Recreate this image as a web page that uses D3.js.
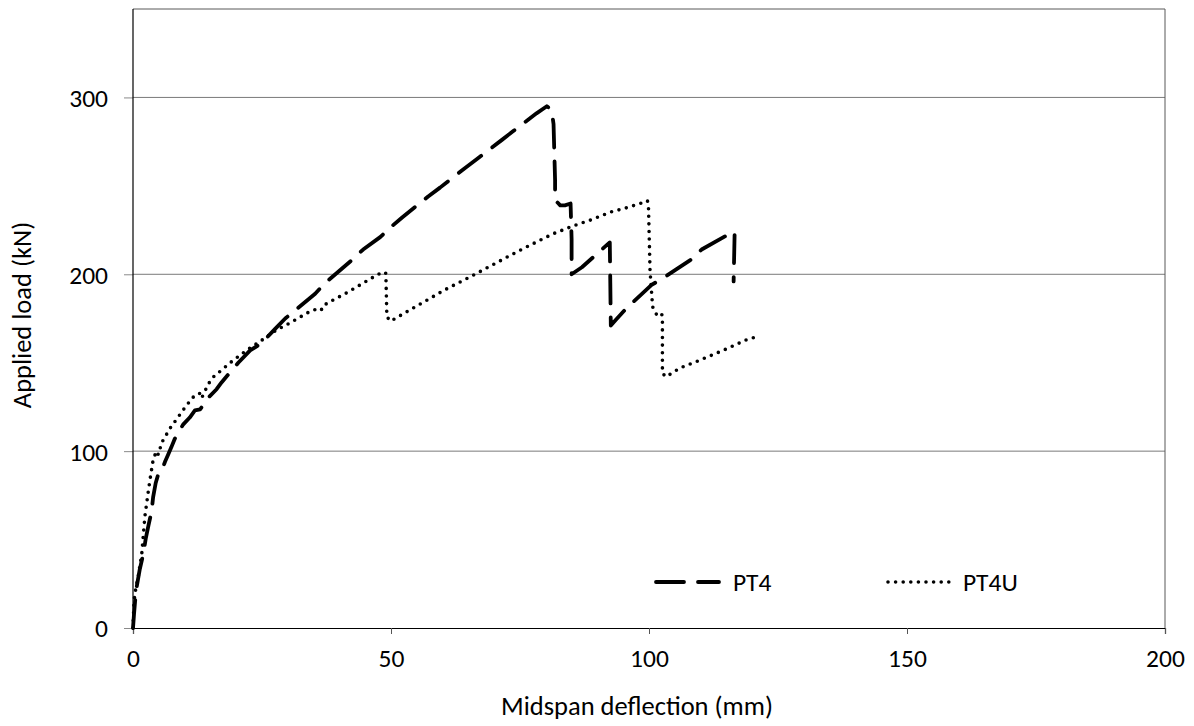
<!DOCTYPE html>
<html>
<head>
<meta charset="utf-8">
<script src="https://cdn.jsdelivr.net/npm/d3@7"></script>
<style>
  html, body { margin: 0; padding: 0; background: #fff; }
  svg text { font-family: Carlito, Calibri, Lato, "Open Sans", sans-serif; fill: #000; }
</style>
</head>
<body>
<svg id="chart" width="1194" height="726"></svg>
<script>
// Load–deflection response of the two beams
const pt4Deflection = [0, 0.2, 0.4, 0.7, 1.3, 2.0, 2.5, 3.0, 3.6, 3.9, 4.4, 4.9, 5.6, 6.2, 6.8, 7.4, 8.1, 9.7, 11.0, 12.0, 13.0, 13.6, 14.5, 16.2, 17.2, 20.4, 22.7, 24.9, 27.5, 29.5, 35.3, 37.2, 42.4, 44.6, 47.9, 50.1, 52.1, 57.2, 59.5, 64.3, 66.6, 71.5, 73.7, 78.2, 80.2, 81.1, 81.5, 81.8, 81.8, 82.8, 83.7, 84.8, 85.0, 85.0, 87.0, 92.4, 92.5, 92.6, 93.5, 95.7, 100.5, 102.8, 108.0, 110.2, 115.7, 116.6, 116.4];
const pt4Load = [0, 8, 15, 23, 33, 42, 51, 58, 66, 74, 82, 87, 89, 94, 98, 102, 107, 115, 119, 123, 123.6, 126, 130, 135, 139, 150, 157, 161, 169, 175, 189, 195, 208, 214, 221, 227, 232, 244, 249, 260, 265, 276, 281, 291, 295, 293, 285, 253, 242, 239, 239, 240, 220, 200, 204, 218, 195, 171, 174, 181, 194, 198, 208, 214, 223, 224, 196];

const pt4uDeflection = [0, 0.2, 0.4, 1.0, 1.7, 2.3, 3.0, 3.3, 3.9, 4.4, 4.6, 4.9, 5.6, 7.2, 8.8, 10.4, 12.0, 13.0, 13.3, 14.6, 15.6, 19.1, 22.0, 24.6, 27.8, 30.1, 34.3, 36.2, 36.6, 37.5, 41.1, 44.6, 47.2, 48.5, 49.0, 49.2, 49.9, 51.4, 60.3, 66.6, 74.4, 78.9, 81.5, 85.0, 88.6, 92.8, 95.3, 98.3, 99.7, 99.9, 100.2, 100.7, 101.5, 102.4, 102.6, 102.6, 103.3, 106.0, 109.9, 114.4, 118.9, 121.2];
const pt4uLoad = [0, 15, 20, 29, 42, 63, 78, 84, 95, 99, 100, 98, 105, 113, 119.5, 126, 131.7, 132.7, 130, 138, 142, 150.6, 157, 162, 168.5, 172, 179, 181, 180, 183.5, 189, 195, 199.5, 201.4, 200.5, 176, 173.5, 176, 191, 200.5, 212.7, 219.3, 223, 227, 230.6, 235.4, 237.3, 240, 241.6, 238, 202, 181.6, 177, 178, 176, 144, 142, 147, 151.5, 157, 163, 165];

const xTicks = [0, 50, 100, 150, 200];
const yTicks = [0, 100, 200, 300];
const seriesNames = ["PT4", "PT4U"];

const svg = d3.select("#chart");
svg.append("rect").attr("width", 1194).attr("height", 726).attr("fill", "#fff");

const x = d3.scaleLinear().domain([0, 200]).range([133, 1165]);
const y = d3.scaleLinear().domain([0, 350]).range([628, 9]);

const tickFont = 25.5;
const titleFont = 26.5;

// horizontal gridlines
svg.append("g").selectAll("line")
  .data(yTicks.filter(d => d > 0))
  .join("line")
  .attr("x1", x(0)).attr("x2", x(200))
  .attr("y1", d => y(d)).attr("y2", d => y(d))
  .attr("stroke", "#7a7a7a").attr("stroke-width", 1);

// plot frame (top and right)
svg.append("path")
  .attr("d", `M${x(0)},${y(350)}H${x(200)}V${y(0)}`)
  .attr("fill", "none").attr("stroke", "#595959").attr("stroke-width", 1);

// y axis
const yAxis = svg.append("g")
  .attr("transform", `translate(${x(0)},0)`)
  .call(d3.axisLeft(y).tickValues(yTicks).tickSize(9).tickPadding(16));
yAxis.select(".domain").remove();
yAxis.selectAll(".tick line").attr("stroke", "#8a8a8a");
yAxis.selectAll(".tick text").attr("font-size", tickFont).attr("dy", "0.35em")
  .style("font-family", "Carlito, Calibri, Lato, sans-serif");
svg.append("line")
  .attr("x1", x(0)).attr("x2", x(0)).attr("y1", y(350)).attr("y2", y(0))
  .attr("stroke", "#000").attr("stroke-width", 1.2);

// x axis
const xAxis = svg.append("g")
  .attr("transform", `translate(0,${y(0)})`)
  .call(d3.axisBottom(x).tickValues(xTicks).tickSize(6).tickPadding(15));
xAxis.select(".domain").attr("stroke", "#000").attr("stroke-width", 1.2);
xAxis.selectAll(".tick line").attr("stroke", "#555");
xAxis.selectAll(".tick text").attr("font-size", tickFont)
  .style("font-family", "Carlito, Calibri, Lato, sans-serif");

// axis titles
svg.append("text")
  .attr("x", 637).attr("y", 715)
  .attr("text-anchor", "middle").attr("font-size", titleFont)
  .text("Midspan deflection (mm)");
svg.append("text")
  .attr("transform", "translate(31,315) rotate(-90)")
  .attr("text-anchor", "middle").attr("font-size", titleFont)
  .text("Applied load (kN)");

// series
const line = d3.line().x(d => x(d[0])).y(d => y(d[1]));
const pt4 = pt4Deflection.map((d, i) => [d, pt4Load[i]]);
const pt4u = pt4uDeflection.map((d, i) => [d, pt4uLoad[i]]);

const styles = {
  PT4: { width: 3.8, dash: "28 14", cap: "round" },
  PT4U: { width: 3.6, dash: "0 7.6", cap: "round" }
};

svg.append("path").datum(pt4u)
  .attr("d", line).attr("fill", "none").attr("stroke", "#000")
  .attr("stroke-width", styles.PT4U.width).attr("stroke-dasharray", styles.PT4U.dash)
  .attr("stroke-linecap", styles.PT4U.cap).attr("stroke-linejoin", "round");
svg.append("path").datum(pt4)
  .attr("d", line).attr("fill", "none").attr("stroke", "#000")
  .attr("stroke-width", styles.PT4.width).attr("stroke-dasharray", styles.PT4.dash)
  .attr("stroke-linecap", styles.PT4.cap).attr("stroke-linejoin", "round");

// legend
const legend = svg.append("g");
const legendItems = [
  { name: seriesNames[0], x0: 656, x1: 719, tx: 733 },
  { name: seriesNames[1], x0: 888, x1: 950, tx: 963 }
];
legendItems.forEach(it => {
  const s = styles[it.name];
  legend.append("line")
    .attr("x1", it.x0).attr("x2", it.x1).attr("y1", 582).attr("y2", 582)
    .attr("stroke", "#000").attr("stroke-width", s.width)
    .attr("stroke-dasharray", s.dash).attr("stroke-linecap", s.cap);
  legend.append("text")
    .attr("x", it.tx).attr("y", 582).attr("dy", "0.35em")
    .attr("font-size", tickFont).text(it.name);
});
</script>
</body>
</html>
